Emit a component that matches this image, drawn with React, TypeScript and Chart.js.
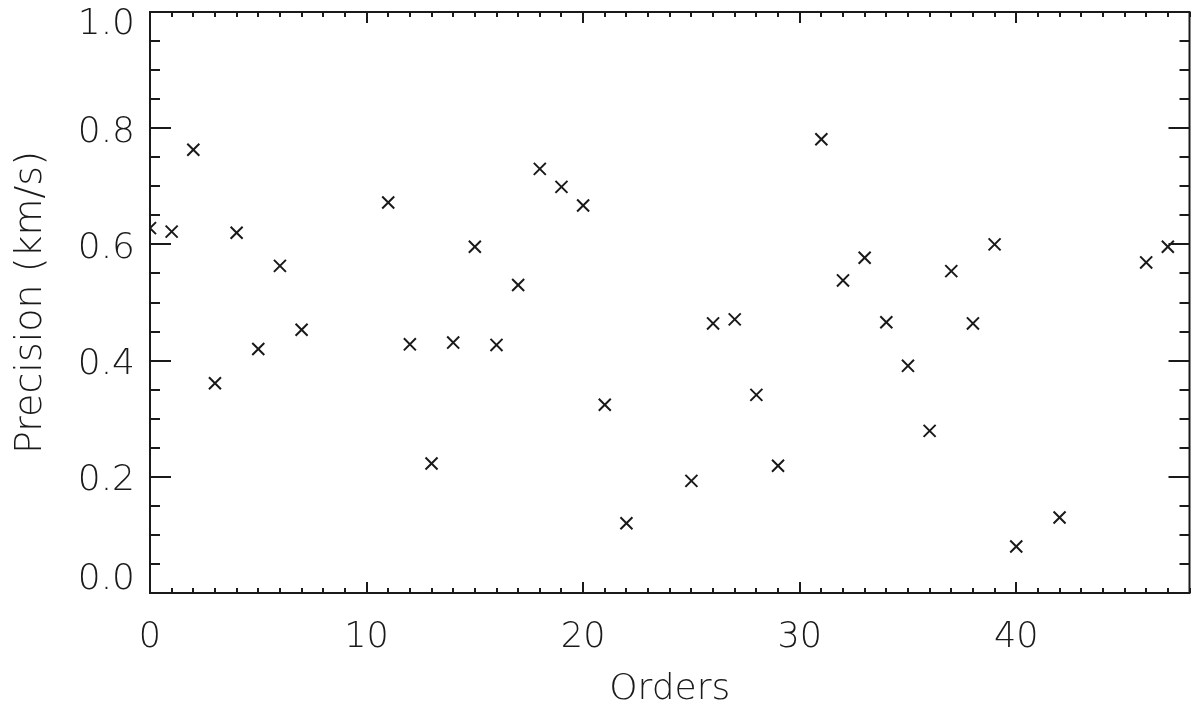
import React, { useEffect, useRef } from "react";
import { Chart, registerables } from "chart.js";

Chart.register(...registerables);

// Data
const orders = [0, 1, 2, 3, 4, 5, 6, 7, 11, 12, 13, 14, 15, 16, 17, 18, 19, 20, 21, 22, 25, 26, 27, 28, 29, 31, 32, 33, 34, 35, 36, 37, 38, 39, 40, 42, 46, 47];
const precision = [0.628, 0.622, 0.763, 0.361, 0.620, 0.420, 0.563, 0.453, 0.672, 0.428, 0.223, 0.431, 0.596, 0.427, 0.530, 0.730, 0.699, 0.667, 0.324, 0.120, 0.193, 0.464, 0.471, 0.341, 0.219, 0.781, 0.538, 0.577, 0.466, 0.391, 0.279, 0.554, 0.464, 0.600, 0.080, 0.130, 0.569, 0.596];

const xMin = 0;
const xMax = 48;
const xMajor = 10;
const xMinor = 1;
const yMin = 0;
const yMax = 1.0;
const yMajor = 0.2;
const yMinorCount = 20; // minor every 0.05

const xTitle = "Orders";
const yTitle = "Precision (km/s)";

const FONT = "'DejaVu Sans', sans-serif";
const INK = "#1a1a1a";

const frameTicks = {
  id: "frameTicks",
  afterDraw(chart: any) {
    const { ctx, chartArea: a, scales } = chart;
    const x = scales.x;
    const y = scales.y;
    ctx.save();
    ctx.strokeStyle = INK;
    ctx.lineWidth = 2;
    ctx.strokeRect(a.left, a.top, a.right - a.left, a.bottom - a.top);
    ctx.beginPath();
    for (let v = xMin; v <= xMax; v += xMinor) {
      const px = Math.round(x.getPixelForValue(v));
      const len = v % xMajor === 0 ? 11 : 5;
      ctx.moveTo(px, a.bottom);
      ctx.lineTo(px, a.bottom - len);
      ctx.moveTo(px, a.top);
      ctx.lineTo(px, a.top + len);
    }
    for (let k = 0; k <= yMinorCount; k++) {
      const v = yMin + ((yMax - yMin) * k) / yMinorCount;
      const py = Math.round(y.getPixelForValue(v));
      const len = k % 4 === 0 ? 21 : 10;
      ctx.moveTo(a.left, py);
      ctx.lineTo(a.left + len, py);
      ctx.moveTo(a.right, py);
      ctx.lineTo(a.right - len, py);
    }
    ctx.stroke();
    ctx.restore();
  },
};

const isClose = (a: number, b: number) => Math.abs(a - b) < 1e-9;

export default function App() {
  const ref = useRef<HTMLCanvasElement | null>(null);
  useEffect(() => {
    if (!ref.current) return;
    const chart = new Chart(ref.current, {
      type: "scatter",
      data: {
        datasets: [
          {
            data: orders.map((o, i) => ({ x: o, y: precision[i] })),
            pointStyle: "crossRot",
            pointRadius: 8.5,
            pointHoverRadius: 8.5,
            borderWidth: 2,
            borderColor: INK,
            backgroundColor: INK,
            clip: 0,
          } as any,
        ],
      },
      options: {
        animation: false,
        responsive: true,
        maintainAspectRatio: false,
        layout: { padding: { top: 12, right: 10, left: 0, bottom: 0 } },
        plugins: { legend: { display: false }, tooltip: { enabled: false } },
        scales: {
          x: {
            type: "linear",
            min: xMin,
            max: xMax,
            grid: { display: true, drawOnChartArea: false, drawTicks: false, color: "transparent" },
            border: { display: false },
            afterBuildTicks: (s: any) => {
              s.ticks = s.ticks.filter((t: any) => t.value % xMajor === 0 && t.value < xMax);
            },
            afterFit: (s: any) => {
              s.height = 114;
              s.paddingLeft = 0;
              s.paddingRight = 0;
              s.paddingTop = 0;
              s.paddingBottom = 0;
            },
            ticks: {
              stepSize: xMajor,
              padding: 24,
              color: INK,
              font: { family: FONT, size: 35, weight: "200" as any },
              maxRotation: 0,
            },
            title: {
              display: true,
              text: xTitle,
              color: INK,
              font: { family: FONT, size: 36, weight: "200" as any },
              padding: { top: 0, bottom: -4 },
            },
          },
          y: {
            type: "linear",
            min: yMin,
            max: yMax,
            grid: { display: true, drawOnChartArea: false, drawTicks: false, color: "transparent" },
            border: { display: false },
            afterFit: (s: any) => {
              s.width = 150;
              s.paddingLeft = 0;
              s.paddingRight = 0;
              s.paddingTop = 0;
              s.paddingBottom = 0;
            },
            ticks: {
              stepSize: yMajor,
              padding: 15,
              labelOffset: 4,
              color: INK,
              font: (c: any) => {
                const v = c.tick ? c.tick.value : NaN;
                let lh = 1.2;
                if (isClose(v, yMax)) lh = 17 / 36;
                if (isClose(v, yMin)) lh = 34 / 36;
                return { family: FONT, size: 36, weight: "200", lineHeight: lh } as any;
              },
              callback: (v: any) => {
                const s = Number(v).toFixed(1);
                if (isClose(Number(v), yMax)) return ["", s];
                if (isClose(Number(v), yMin)) return [s, ""];
                return s;
              },
            },
            title: {
              display: true,
              text: yTitle,
              color: INK,
              font: { family: FONT, size: 38, weight: "200" as any },
              padding: { top: 8, bottom: 0 },
            },
          },
        },
      },
      plugins: [frameTicks],
    });
    return () => chart.destroy();
  }, []);
  return (
    <div style={{ position: "fixed", left: 0, top: 0, width: 1200, height: 707, background: "#fff" }}>
      <canvas ref={ref} />
    </div>
  );
}
